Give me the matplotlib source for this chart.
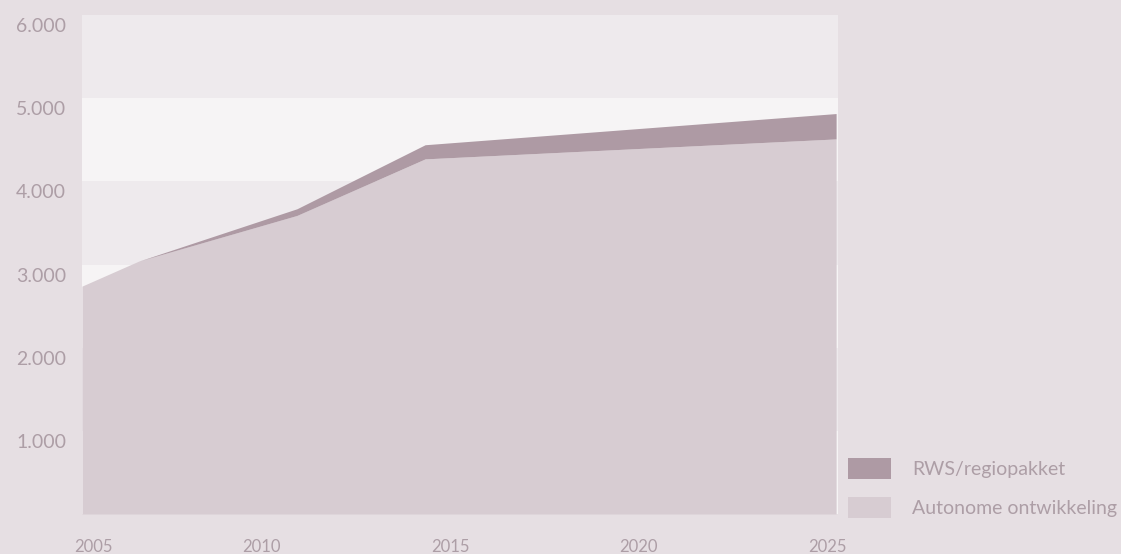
import matplotlib
matplotlib.use('Agg')
import matplotlib.pyplot as plt
from matplotlib.transforms import ScaledTranslation
from matplotlib.patches import Patch

# Gegevens
jaren = [2005, 2006.5, 2010.7, 2014.1, 2025]
autonoom = [2740, 3040, 3590, 4270, 4510]
rws = [0, 0, 80, 170, 305]
totaal = [a + r for a, r in zip(autonoom, rws)]

yticks = [1000, 2000, 3000, 4000, 5000, 6000]
ylabels = ['1.000', '2.000', '3.000', '4.000', '5.000', '6.000']
xticks = [2005, 2010, 2015, 2020, 2025]

# Kleuren
bg = '#e6dfe3'
band_donker = '#eeeaed'
band_licht = '#f6f4f5'
kl_auto = '#d7ccd2'
kl_rws = '#ae9aa4'
tekst = '#ad9ea6'

plt.rcParams['font.family'] = ['Lato', 'DejaVu Sans']

fig = plt.figure(figsize=(11.21, 5.54), dpi=100, facecolor=bg)
ax = fig.add_axes([82 / 1121, 40 / 554, 756 / 1121, 499 / 554])
ax.set_facecolor(band_donker)
ax.set_xlim(2005, 2025.05)
ax.set_ylim(0, 6000)

# Afwisselende banden
for lo in range(0, 6000, 1000):
    kleur = band_licht if (lo // 1000) % 2 == 0 else band_donker
    ax.axhspan(lo, lo + 1000, color=kleur, lw=0, zorder=0)

ax.fill_between(jaren, 0, autonoom, color=kl_auto, lw=0, zorder=2)
ax.fill_between(jaren, autonoom, totaal, color=kl_rws, lw=0, zorder=2)

for s in ax.spines.values():
    s.set_visible(False)

ax.set_yticks(yticks)
ax.set_yticklabels(ylabels)
ax.tick_params(axis='y', length=0, pad=11.5, labelsize=14, labelcolor=tekst)
for lab in ax.get_yticklabels():
    lab.set_transform(lab.get_transform() + ScaledTranslation(0, -0.1, fig.dpi_scale_trans))

ax.set_xticks(xticks)
ax.set_xticklabels([str(x) for x in xticks])
ax.tick_params(axis='x', length=0, pad=18, labelsize=12, labelcolor=tekst)
for i, lab in enumerate(ax.get_xticklabels()):
    if i == 0:
        lab.set_horizontalalignment('left')
        lab.set_transform(lab.get_transform() + ScaledTranslation(-0.08, 0, fig.dpi_scale_trans))
    else:
        lab.set_transform(lab.get_transform() + ScaledTranslation(-0.09, 0, fig.dpi_scale_trans))

handles = [Patch(facecolor=kl_rws, lw=0), Patch(facecolor=kl_auto, lw=0)]
leg = fig.legend(handles, ['RWS/regiopakket', 'Autonome ontwikkeling'],
                 loc='lower left', bbox_to_anchor=(848 / 1121, 36 / 554),
                 frameon=False, fontsize=14, handlelength=2.2, handleheight=1.25,
                 handletextpad=1.1, labelspacing=0.95, borderpad=0, borderaxespad=0)
for t in leg.get_texts():
    t.set_color(tekst)

fig.savefig('out.png', dpi=100, facecolor=bg)
